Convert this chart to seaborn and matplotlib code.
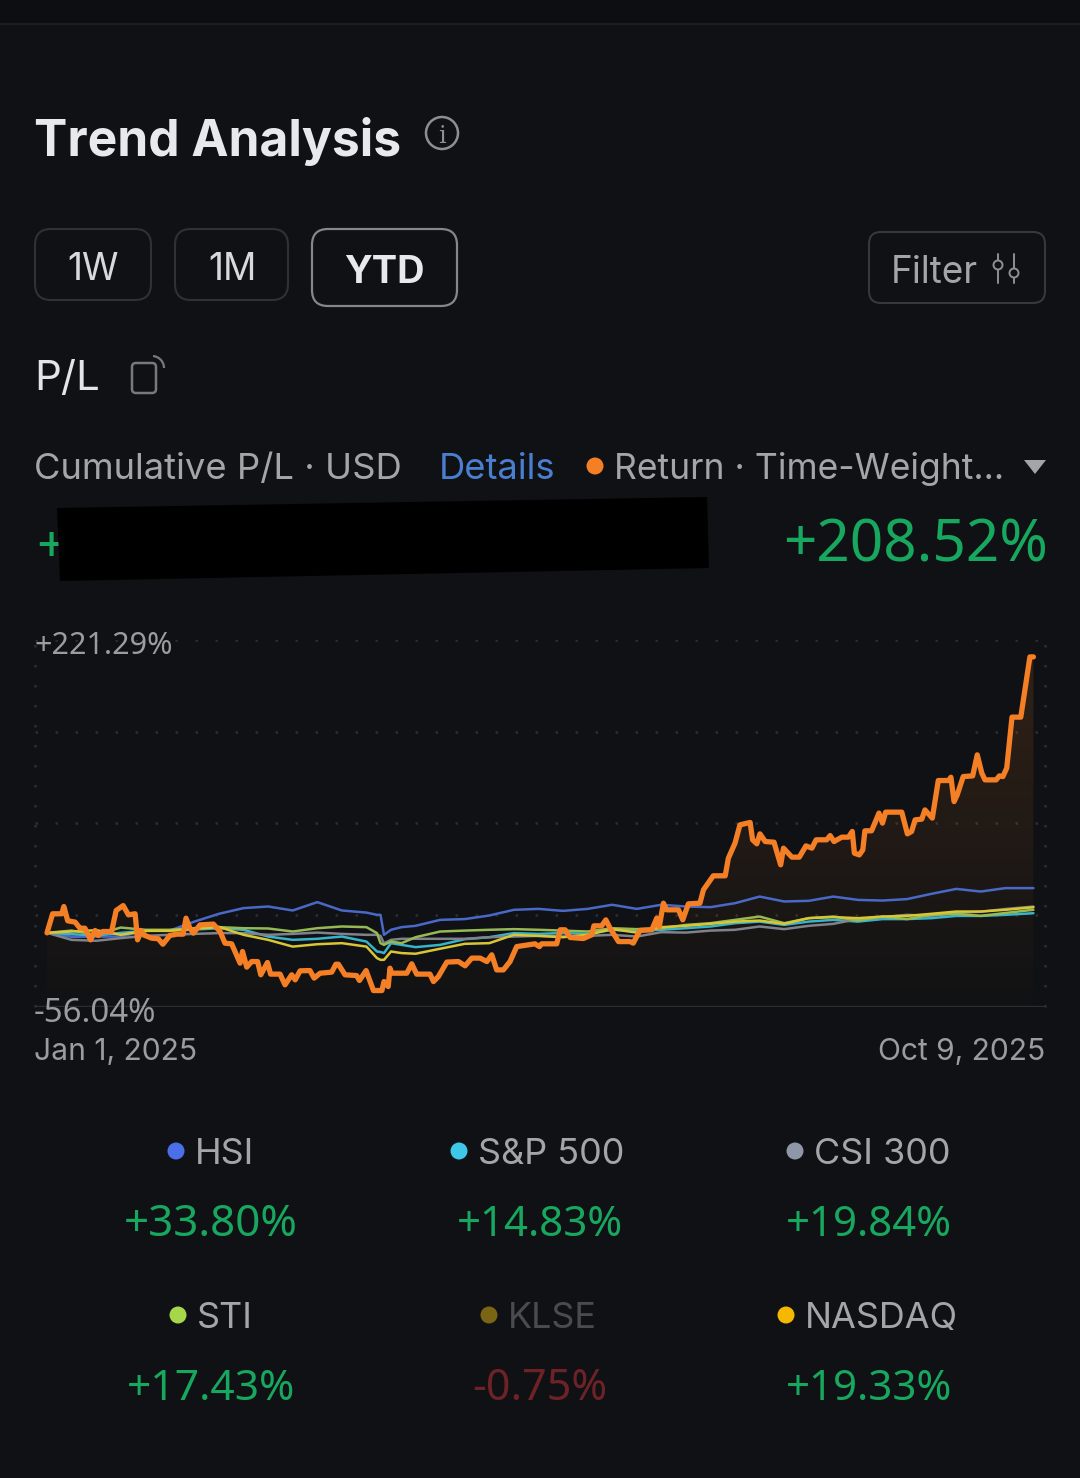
import numpy as np
import pandas as pd
import matplotlib
matplotlib.use("Agg")
import matplotlib.pyplot as plt
from matplotlib.patches import FancyBboxPatch, Circle, Polygon, Arc
import seaborn as sns

# ---- data ----
RETURN_DAYS = [0,1.6,4.2,4.8,5.9,8,9.4,10.8,12.4,13.7,14.6,15.9,18.4,19.7,21.7,23.2,25.1,25.8,26.7,27.9,29.8,31.7,33,35,37,38.8,39.6,40.7,41.7,43.6,47.4,49.3,50.7,52.6,55,55.7,56.9,58.3,60,60.9,62.8,63.7,66.4,67.8,69.7,70.7,72.1,74.9,76.1,77.8,81.1,82.3,83,84.9,88.2,89,90.9,93,95.4,96,97.2,97.7,98.2,102.5,103.9,105.3,109.1,110.1,111.5,113.9,117.2,119.1,121,123.4,125.3,126.7,128.1,130,131.9,133.8,139,140.3,140.9,145.2,146.2,147.6,149,152.8,155.2,155.8,158,159.2,160.4,162.8,166.1,167,168.9,172.3,173.7,174.4,175.6,176.5,179.9,181.1,182.7,186,187,189.8,193.2,194.1,196,197.4,200.3,201,202.2,203.1,204.6,207.1,209,209.8,212.2,214.3,216.2,217.9,219.1,222.1,223.1,224.2,226.4,228.3,229.4,230,231.4,232.4,233,234.9,237,238,238.9,243.5,245.1,246.3,247.3,249.2,250.1,252.2,253.9,256.8,257.5,258.4,259.3,261,263.7,265,266.3,267.2,270.4,271.3,272.3,273.4,274.9,277.4,280,281]
RETURN_PCT = [0,14.4,14.4,19.9,9.1,8.1,3.5,3.5,-5.3,1.8,-2,1,1,16.9,20.6,13.6,14.4,-5.3,1.8,-2,-4,-4.5,-8.6,-2,-1,-1,11.1,3.5,-0.2,6,6.6,1,-7.8,-8.3,-22.9,-14.1,-25.9,-21.7,-21.7,-31.7,-22.4,-31.2,-31.2,-39.3,-31.7,-35.5,-28.7,-28.5,-34.2,-30.5,-29.7,-23.7,-23.7,-31.7,-32.3,-36,-28.5,-43.6,-43.6,-36.8,-40.6,-26.7,-30.5,-30.5,-23.4,-31.2,-31.2,-36.8,-33,-22.1,-21.7,-24.9,-19.1,-19.1,-21.7,-16.6,-28,-28,-21.7,-10.4,-8.3,-10.4,-8.3,-8.3,2.3,2.3,-3.5,-4.3,-1.5,5.3,5.3,9.8,3.5,-6.6,-6.6,-7.8,1.8,2.3,11.1,4.3,22.4,17.4,17.4,9.8,21.9,22.4,32.5,43.1,43.1,56.4,67.8,81.6,83.4,70.3,67.3,74.8,69,68.5,51.4,64,57.2,57.2,65.7,64,70.3,70.3,73.5,69,72.3,72.3,76.6,60.2,58.9,62.7,77.1,77.1,90.5,82.9,91.2,91.2,74.8,76.6,85.4,85.9,92.9,86.7,115.1,115.1,117.6,99.2,104.3,118.1,118.6,134.5,120.7,115.6,115.6,118.6,118.1,124.5,163,163,208.52,208.52]

INDEX_DAYS = [0,7,14,21,28,35,42,49,56,63,70,77,84,91,94,95,96,98,101,105,112,119,126,133,140,147,154,161,168,175,182,189,196,203,210,217,224,231,238,245,252,259,266,273,281]
HSI_PCT = [0,-3,-2.8,-2.8,1.7,1.7,8.5,14.4,18.7,19.9,16.9,23.2,16.9,15.3,13.6,13.6,-1.5,2.3,4.3,5.3,9.8,10.4,13.1,17.4,18.1,16.6,18.1,21.2,18.1,21.2,19.9,19.4,22.4,27.4,23.7,24.2,27.4,24.9,24.4,25.5,29.5,33.2,31.2,33.8,33.8]
SPX_PCT = [0,-1,-2,0,1.5,2,2.5,3.5,2.3,-2.8,-5.3,-4.5,-2.8,-6.6,-14.1,-14.5,-15.3,-7.8,-9.1,-10.8,-9.1,-4.8,-3.3,-0.2,-0.8,-0.2,-0.8,2.3,1.7,2.3,3.5,4.8,7.3,8.5,6,8.5,9.8,8.5,10.4,10.4,11.1,12.8,12.8,13.6,14.83]
CSI_PCT = [0,-5.3,-6,-4,-2.3,-1.5,-0.8,-0.2,-0.2,-1.5,-0.8,0.2,-0.8,-1.5,-1.5,-2.3,-8,-5.3,-4.5,-4.5,-4.5,-4.5,-3.3,-2.8,-2.3,-2.8,-2.3,-1.5,-2.8,0.5,0.2,1.7,2.3,4.8,2.8,5.3,6.8,10.4,11.9,13.6,12.8,15,16,18,19.84]
STI_PCT = [0,1.7,-1.5,4,2.3,2.3,3.5,4.3,3.5,3.3,1,3.5,4.8,4.3,-0.2,-7.8,-9.1,-6.6,-7.8,-3.3,1,1.7,2.3,2.8,2.3,1.7,1,3.5,2.8,3.5,6,7.3,9.8,12.3,7.3,11.1,12.3,9.3,12.3,10.4,13.6,14.4,12.8,15,17.43]
NDQ_PCT = [0,1,2,-1.5,1.5,1.5,3,4.5,-1.5,-5.3,-10.4,-8.6,-7.8,-10.4,-19.1,-20.4,-20.4,-14.1,-15.3,-15.8,-12,-8.3,-7.8,-1.5,-2.3,-3.3,-1.5,2.8,0.2,4.3,5.3,6.8,8.5,9.3,6.8,11.1,11.9,11.1,12.3,12.8,14.4,16.1,16.1,17.4,19.33]

AXIS_MAX = 221.29
AXIS_MIN = -56.04
Y_TOP_LABEL = "+221.29%"
Y_BOTTOM_LABEL = "-56.04%"
DATE_START = "Jan 1, 2025"
DATE_END = "Oct 9, 2025"
HEADLINE = "+208.52%"
RANGES = ["1W", "1M", "YTD"]
LEGEND_NAMES = ["HSI", "S&P 500", "CSI 300", "STI", "KLSE", "NASDAQ"]
LEGEND_VALUES = ["+33.80%", "+14.83%", "+19.84%", "+17.43%", "-0.75%", "+19.33%"]

BG = "#0f1114"
GREEN = "#18a75f"
sns.set_theme(style="dark", rc={"figure.facecolor": BG, "axes.facecolor": BG, "savefig.facecolor": BG})
plt.rcParams["font.family"] = ["Inter", "DejaVu Sans"]

W, H = 1080, 1478
fig = plt.figure(figsize=(W / 100, H / 100), dpi=100)

# ---- page layer in pixel units ----
ui = fig.add_axes([0, 0, 1, 1], zorder=0)
ui.set_xlim(0, W); ui.set_ylim(H, 0); ui.axis("off")

def px(size):
    return size * 0.72

def label(x, y, s, size, color, ha="left", weight="normal", ax=ui, z=10, family=None):
    ax.text(x, y, s, fontsize=px(size), color=color, ha=ha, va="center_baseline", fontweight=weight, zorder=z,
            family=family if family else ["Inter", "DejaVu Sans"])

def button(x0, y0, x1, y1, edge, lw=1.5, r=16):
    ui.add_patch(FancyBboxPatch((x0 + r, y0 + r), x1 - x0 - 2 * r, y1 - y0 - 2 * r,
                                boxstyle=f"round,pad={r},rounding_size={r}", fc="none", ec=edge, lw=lw))

NUM_FONT = ["Noto Sans", "DejaVu Sans"]

ui.plot([0, W], [24, 24], color="#1f2124", lw=1.2)
ui.add_patch(plt.Rectangle((0, 0), W, 24, fc="#0d0e11", ec="none"))

label(34, 136, "Trend Analysis", 49.8, "#e8e9eb", weight="bold")
ui.add_patch(Circle((442, 133), 16, fc="none", ec="#8d8f93", lw=1.8))
label(442, 134, "i", 24, "#8d8f93", ha="center", family=["DejaVu Serif"])

button(35, 229, 151, 300, "#2f3135")
button(175, 229, 288, 300, "#2f3135")
button(312, 229, 457, 306, "#85878b", lw=1.6)
label(93, 266, RANGES[0], 37, "#d8d9db", ha="center")
label(232, 266, RANGES[1], 37, "#d8d9db", ha="center")
label(384, 269, RANGES[2], 38, "#e8e9eb", ha="center", weight="bold")

button(869, 232, 1045, 303, "#36383c", r=12)
label(891, 269, "Filter", 37, "#a3a5a8")
for fx, fy in ((998, 265), (1014, 273)):
    ui.plot([fx, fx], [254, 283], color="#8d8f93", lw=1.4)
    ui.add_patch(Circle((fx, fy), 4.5, fc=BG, ec="#8d8f93", lw=1.4, zorder=5))

label(34, 375, "P/L", 42, "#e4e5e7")
ui.add_patch(FancyBboxPatch((135, 366), 18, 24, boxstyle="round,pad=3,rounding_size=4", fc="none", ec="#77797d", lw=1.8))
ui.add_patch(Arc((152, 368), 24, 24, theta1=275, theta2=360, ec="#77797d", lw=1.6))

label(34, 466, "Cumulative P/L · USD", 36.4, "#a3a5a8")
label(439, 466, "Details", 36.4, "#4a7fd0")
ui.add_patch(Circle((595, 466), 8.5, fc="#f57f25", ec="none"))
label(614, 466, "Return · Time-Weight...", 35.6, "#a3a5a8")
ui.add_patch(Polygon([(1024, 460), (1046, 460), (1035, 474)], fc="#a3a5a8", ec="none"))

label(34, 539, "+", 50, GREEN)
ui.add_patch(Polygon([(57, 508), (707, 497), (709, 568), (60, 581)], fc="#000000", ec="none", zorder=11))
label(1048, 539, HEADLINE, 58.5, GREEN, ha="right", family=NUM_FONT)

# ---- chart ----
ax = fig.add_axes([35 / W, 1 - 1007 / H, (1045 - 35) / W, (1007 - 640) / H], zorder=2)
ax.patch.set_alpha(0)
xlim = (-3.42, 284.3)

grid_levels = np.linspace(AXIS_MIN, AXIS_MAX, 5)
for level in grid_levels[1:]:
    ax.axhline(level, color="#2c2e32", lw=1.8, ls=(0, (1, 7)), zorder=1)
for vx in xlim:
    ax.axvline(vx, color="#2c2e32", lw=1.8, ls=(0, (1, 7)), zorder=1, clip_on=False)
ax.axhline(AXIS_MIN, color="#2b2d30", lw=2.4, zorder=1)

# gradient area under the return line
area = ax.fill_between(RETURN_DAYS, RETURN_PCT, AXIS_MIN, fc="none", ec="none")
alpha = np.linspace(0.15, 0.012, 256).reshape(-1, 1)
rgba = np.zeros((256, 1, 4)); rgba[..., 0] = 0.96; rgba[..., 1] = 0.50; rgba[..., 2] = 0.15; rgba[..., 3] = alpha
im = ax.imshow(rgba, extent=(0, 281, AXIS_MIN, 208.52), origin="upper", aspect="auto", zorder=1.5)
im.set_clip_path(area.get_paths()[0], transform=ax.transData)

index_frame = pd.DataFrame({"day": INDEX_DAYS, "HSI": HSI_PCT, "S&P 500": SPX_PCT, "CSI 300": CSI_PCT,
                            "STI": STI_PCT, "NASDAQ": NDQ_PCT}).melt("day", var_name="index", value_name="pct")
palette = {"HSI": "#4a68c8", "S&P 500": "#37b4c9", "CSI 300": "#7f828b", "STI": "#96b954", "NASDAQ": "#d9c634"}
sns.lineplot(data=index_frame, x="day", y="pct", hue="index", palette=palette, hue_order=list(palette),
             lw=1.8, legend=False, errorbar=None, sort=False, ax=ax, zorder=3)
sns.lineplot(x=RETURN_DAYS, y=RETURN_PCT, color="#f57f25", lw=3.8, errorbar=None, sort=False, estimator=None, ax=ax, zorder=4)

ax.set_xlim(*xlim); ax.set_ylim(AXIS_MIN, AXIS_MAX)
ax.set_xlabel(""); ax.set_ylabel("")
ax.set_xticks([]); ax.set_yticks([])
for s in ax.spines.values():
    s.set_visible(False)

# axis captions on top of the chart
over = fig.add_axes([0, 0, 1, 1], zorder=3)
over.set_xlim(0, W); over.set_ylim(H, 0); over.axis("off")
label(35, 643, Y_TOP_LABEL, 30.5, "#9a9c9f", ax=over, family=NUM_FONT)
label(34, 1009, Y_BOTTOM_LABEL, 33, "#9a9c9f", ax=over, family=NUM_FONT)
label(34, 1049, DATE_START, 30, "#9a9c9f", ax=over)
label(1045, 1049, DATE_END, 30, "#9a9c9f", ha="right", ax=over)

# ---- legend grid ----
dots = ["#4a6fe8", "#3ec8e8", "#8f96a8", "#a6d64a", "#7a6515", "#f5b800"]
name_colors = ["#a3a5a8", "#a3a5a8", "#a3a5a8", "#a3a5a8", "#4a4b4e", "#a3a5a8"]
value_colors = [GREEN, GREEN, GREEN, GREEN, "#6e2226", GREEN]
dot_x = [176, 459, 795, 178, 489, 786]
name_x = [195, 478, 814, 197, 508, 805]
value_cx = [211, 540, 869, 211, 540, 869]
value_size = [44, 42, 42, 42.5, 43, 42]
for i, name in enumerate(LEGEND_NAMES):
    row = i // 3
    y_name = 1151 + 164 * row
    y_val = 1220 + 164 * row
    ui.add_patch(Circle((dot_x[i], y_name), 8.5, fc=dots[i], ec="none"))
    label(name_x[i], y_name, name, 36, name_colors[i])
    label(value_cx[i], y_val, LEGEND_VALUES[i], value_size[i], value_colors[i], ha="center", family=NUM_FONT)

fig.savefig("out.png", dpi=100)
